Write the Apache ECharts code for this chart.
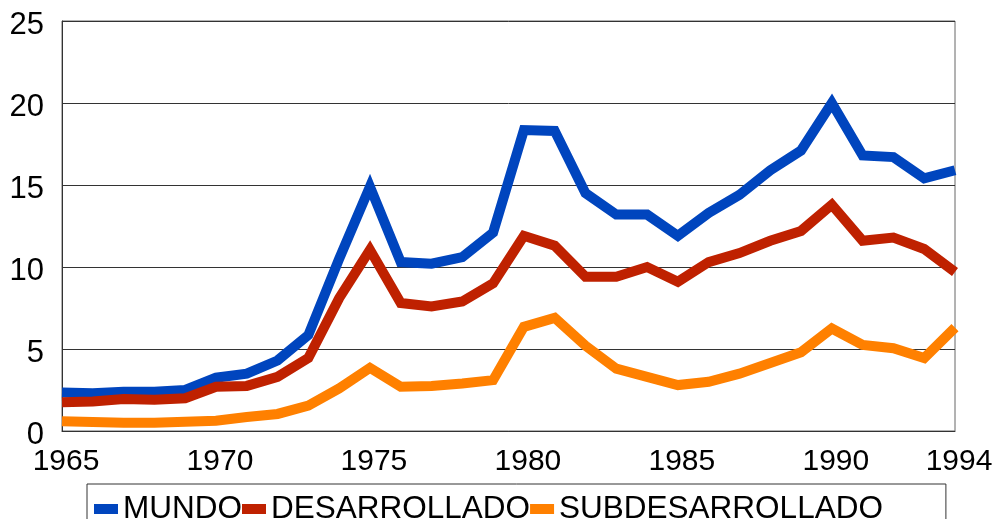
<!DOCTYPE html>
<html>
<head>
<meta charset="utf-8">
<script src="https://cdn.jsdelivr.net/npm/echarts@6/dist/echarts.min.js"></script>
<style>
html, body { margin: 0; padding: 0; background: #fff; }
#chart { width: 998px; height: 519px; }
</style>
</head>
<body>
<div id="chart"></div>
<script>
// años 1965 - 1994
var years = [];
for (var y = 1965; y <= 1994; y++) years.push(String(y));

var mundo = [2.35, 2.3, 2.4, 2.4, 2.5, 3.25, 3.5, 4.3, 5.85, 10.5, 14.9, 10.3, 10.2, 10.6, 12.1,
	18.35, 18.3, 14.5, 13.2, 13.2, 11.9, 13.3, 14.4, 15.9, 17.1, 20.0, 16.8, 16.7, 15.4, 15.9];
var desarrollado = [1.75, 1.8, 1.95, 1.9, 2.0, 2.7, 2.75, 3.3, 4.45, 8.1, 11.05, 7.8, 7.6, 7.9, 9.0,
	11.9, 11.3, 9.4, 9.4, 10.0, 9.1, 10.3, 10.85, 11.6, 12.2, 13.8, 11.6, 11.8, 11.1, 9.7];
var subdesarrollado = [0.6, 0.55, 0.5, 0.5, 0.57, 0.63, 0.85, 1.04, 1.55, 2.6, 3.85, 2.7, 2.75, 2.9, 3.1,
	6.35, 6.9, 5.2, 3.8, 3.3, 2.8, 3.0, 3.5, 4.15, 4.8, 6.25, 5.25, 5.05, 4.45, 6.3];
var yTicks = [0, 5, 10, 15, 20, 25];

var myChart = echarts.init(document.getElementById('chart'));
var font = 'Liberation Sans, Arial, sans-serif';

function serie(name, color, data) {
	return {
		name: name,
		type: 'line',
		data: data,
		symbol: 'none',
		clip: false,
		lineStyle: { color: color, width: 10, join: 'miter' },
		itemStyle: { color: color }
	};
}

var option = {
	animation: false,
	grid: {
		left: 62,
		right: 43,
		top: 21,
		bottom: 88,
		show: true,
		borderColor: '#666',
		borderWidth: 1
	},
	legend: {
		left: 87,
		top: 484,
		orient: 'horizontal',
		padding: [9, 63, 12, 7],
		itemGap: 0,
		itemWidth: 24,
		itemHeight: 10,
		icon: 'rect',
		borderColor: '#333',
		borderWidth: 1,
		textStyle: { fontFamily: font, fontSize: 31.5, color: '#000' },
		data: ['MUNDO', 'DESARROLLADO', 'SUBDESARROLLADO']
	},
	xAxis: {
		type: 'category',
		boundaryGap: false,
		data: years,
		axisTick: { show: false },
		axisLine: { lineStyle: { color: '#333', width: 1 } },
		axisLabel: {
			interval: function (i) { return i % 5 === 0 || i === years.length - 1; },
			formatter: '{v|{value}}',
			rich: { v: { fontFamily: font, fontSize: 30, color: '#000', padding: [0, 0, 0, 8] } },
			margin: 16
		}
	},
	yAxis: {
		type: 'value',
		min: yTicks[0],
		max: yTicks[yTicks.length - 1],
		interval: 5,
		axisTick: { show: false },
		axisLine: { show: true, lineStyle: { color: '#333', width: 1 } },
		splitLine: { lineStyle: { color: '#333', width: 1 } },
		axisLabel: {
			fontFamily: font,
			fontSize: 31,
			color: '#000',
			margin: 18,
			verticalAlign: 'top',
			lineHeight: 8
		}
	},
	series: [
		serie('MUNDO', '#0045BE', mundo),
		serie('DESARROLLADO', '#BF2100', desarrollado),
		serie('SUBDESARROLLADO', '#FF8000', subdesarrollado)
	]
};

myChart.setOption(option);
window.addEventListener('resize', function () {
	myChart.resize();
});
</script>
</body>
</html>
